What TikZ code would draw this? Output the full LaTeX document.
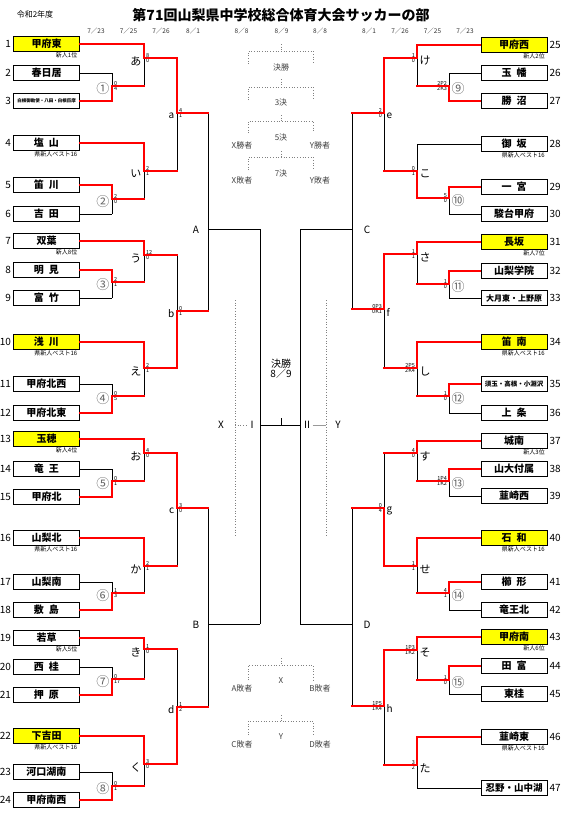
\documentclass[tikz,border=0pt]{standalone}
\usepackage{fontspec}
\setmainfont{Noto Sans CJK JP}
\usetikzlibrary{positioning}
\definecolor{hiyellow}{RGB}{255,255,0}
\definecolor{winred}{RGB}{255,0,0}
\definecolor{dimgray}{RGB}{100,100,100}
\newcommand\tsp{\hspace{0.5em}}
\tikzset{
  team/.style = {draw=black, line width=0.9pt, minimum width=66pt,
    minimum height=15pt, inner sep=0pt, font=\bfseries\fontsize{10}{10}\selectfont},
  team_y/.style = {team, fill=hiyellow},% seeded teams
  tnum/.style = {inner sep=1pt, font=\fontsize{10}{10}\selectfont},
  sub/.style = {inner sep=0.5pt, font=\fontsize{6}{6}\selectfont},
  lose/.style = {draw=black, line width=0.8pt},
  win/.style = {draw=winred, line width=1.8pt, line cap=rect},
  scr/.style = {inner sep=0.4pt, font=\fontsize{5.5}{5.5}\selectfont},
  rnd_c/.style = {inner sep=0.5pt, dimgray, font=\fontsize{13}{13}\selectfont},
  rnd_k/.style = {inner sep=0.5pt, font=\fontsize{11}{11}\selectfont},
  rnd_q/.style = {inner sep=0.5pt, font=\fontsize{10}{10}\selectfont},
  blk/.style = {inner sep=0.5pt, font=\fontsize{10}{10}\selectfont},
  note/.style = {inner sep=0.5pt, black!75, font=\fontsize{8}{8}\selectfont},
  dots/.style = {draw=black!50, dotted, line width=0.7pt},
  date/.style = {inner sep=0.5pt, black!80, font=\fontsize{6.5}{6.5}\selectfont}
}

\begin{document}
\begin{tikzpicture}[x=1pt, y=-1pt]
\useasboundingbox (0,0) rectangle (565,823);

% header
\node[inner sep=0pt, font=\fontsize{8}{8}\selectfont] (year) at (35,14.5) {令和2年度};
\node[inner sep=0pt, font=\bfseries\fontsize{14}{14}\selectfont] (title) at (281,15) {第71回山梨県中学校総合体育大会サッカーの部};
\foreach \x/\d [count=\i] in {96/7／23, 128.5/7／25, 161/7／26, 193/8／1, 241.5/8／8,
    281.5/8／9, 320/8／8, 369/8／1, 400/7／26, 432.5/7／25, 465/7／23}
  \node[date] (d\i) at (\x,31) {\d};

% left block teams
\foreach \n/\y/\nm/\st in {1/44/甲府東/team_y, 2/73/春日居/team,
    3/101/{\fontsize{4.5}{5}\selectfont 白根御勅使・八田・白根巨摩}/team,
    4/143/塩\tsp 山/team, 5/185/笛\tsp 川/team, 6/214/吉\tsp 田/team,
    7/241/双葉/team, 8/270/明\tsp 見/team, 9/298/富\tsp 竹/team,
    10/342/浅\tsp 川/team_y, 11/384/甲府北西/team, 12/413/甲府北東/team,
    13/439/玉穂/team_y, 14/469/竜\tsp 王/team, 15/497/甲府北/team,
    16/538/山梨北/team, 17/582/山梨南/team, 18/610/敷\tsp 島/team,
    19/638/若草/team, 20/667/西\tsp 桂/team, 21/695/押\tsp 原/team,
    22/736/下吉田/team_y, 23/772/河口湖南/team, 24/800/甲府南西/team}{
  \node[\st] (t\n) at (46.5,\y) {\nm};
  \node[tnum, left=1pt of t\n] (n\n) {\n};
}
% right block teams
\foreach \n/\y/\nm/\st in {25/45/甲府西/team_y, 26/73/玉\tsp 幡/team, 27/101/勝\tsp 沼/team,
    28/144/御\tsp 坂/team, 29/187/一\tsp 宮/team, 30/214/駿台甲府/team,
    31/242/長坂/team_y, 32/271/山梨学院/team,
    33/298/{\fontsize{8}{8}\selectfont 大月東・上野原}/team,
    34/342/笛\tsp 南/team_y,
    35/384/{\fontsize{6.5}{7}\selectfont 須玉・高根・小淵沢}/team, 36/413/上\tsp 条/team,
    37/441/城南/team, 38/469/山大付属/team, 39/496/韮崎西/team,
    40/538/石\tsp 和/team_y, 41/582/櫛\tsp 形/team, 42/610/竜王北/team,
    43/637/甲府南/team_y, 44/666/田\tsp 富/team, 45/694/東桂/team,
    46/737/韮崎東/team, 47/788/{\fontsize{9.5}{10}\selectfont 忍野・山中湖}/team}{
  \node[\st] (t\n) at (514,\y) {\nm};
  \node[tnum, right=1pt of t\n] (n\n) {\n};
}
% notes under the boxes
\foreach \n/\s in {1/新人1位, 4/県新人ベスト16, 7/新人8位, 10/県新人ベスト16,
    13/新人4位, 16/県新人ベスト16, 19/新人5位, 22/県新人ベスト16,
    25/新人2位, 28/県新人ベスト16, 31/新人7位, 34/県新人ベスト16,
    37/新人3位, 40/県新人ベスト16, 43/新人6位, 46/県新人ベスト16}
  \node[sub, anchor=north east] (s\n) at ([xshift=-2pt]t\n.south east) {\s};

% left matches: name/x/top/bottom/out/winner/scores/label
\foreach \m/\x/\yt/\yb/\yo/\w/\sa/\sb/\lb/\ls in {
    c1/112/73/101/86/b/0/4/①/rnd_c, k1/144/44/86/58/t/8/0/あ/rnd_k,
    c2/112/185/214/199/t/2/0/②/rnd_c, k2/144/143/199/171/t/2/1/い/rnd_k,
    qa/177/58/171/113/t/4/1/a/rnd_q,
    c3/112/270/298/282/t/2/1/③/rnd_c, k3/144/241/282/255/t/12/0/う/rnd_k,
    c4/112/384/413/396/b/0/5/④/rnd_c, k4/144/342/396/368/t/2/1/え/rnd_k,
    qb/177/255/368/311/b/0/1/b/rnd_q,
    c5/112/469/497/481/b/0/1/⑤/rnd_c, k5/144/439/481/453/t/4/0/お/rnd_k,
    c6/112/582/610/593/b/1/3/⑥/rnd_c, k6/144/538/593/566/t/2/1/か/rnd_k,
    qc/177/453/566/508/t/3/0/c/rnd_q,
    c7/112/667/695/679/b/0/17/⑦/rnd_c, k7/144/638/679/649/t/1/0/き/rnd_k,
    c8/112/772/800/786/b/0/1/⑧/rnd_c, k8/144/736/786/764/t/3/0/く/rnd_k,
    qd/177/649/764/707/b/1/2/d/rnd_q}{
  \coordinate (\m-t) at (\x,\yt);
  \coordinate (\m-b) at (\x,\yb);
  \coordinate (\m) at (\x,\yo);
  \draw[lose] (\m-t) -- (\m-b);
  \draw[win] (\m-\w) -- (\m);
  \node[scr, anchor=south west] (\m-sa) at ([xshift=1.5pt]\m) {\sa};
  \node[scr, anchor=north west] (\m-sb) at ([xshift=1.5pt]\m) {\sb};
  \node[\ls, anchor=east] (\m-l) at ([xshift=-2pt, yshift=-3pt]\m) {\lb};
}
% right matches
\foreach \m/\x/\yt/\yb/\yo/\w/\sa/\sb/\lb/\ls in {
    c9/449/73/101/86/b/2P2/2K3/⑨/rnd_c, k9/417/45/86/58/t/1/0/け/rnd_k,
    c10/449/187/214/198/t/5/0/⑩/rnd_c, k10/417/144/198/171/b/0/1/こ/rnd_k,
    qe/384/58/171/113/t/2/0/e/rnd_q,
    c11/449/271/298/284/t/1/0/⑪/rnd_c, k11/417/242/284/254/t/1/1/さ/rnd_k,
    c12/449/384/413/396/t/1/0/⑫/rnd_c, k12/417/342/396/368/t/2P5/2K4/し/rnd_k,
    qf/384/254/368/309/t/0P3/0K1/f/rnd_q,
    c13/449/469/496/481/t/1P4/1K2/⑬/rnd_c, k13/417/441/481/453/t/4/0/す/rnd_k,
    c14/449/582/610/593/t/4/1/⑭/rnd_c, k14/417/538/593/566/t/1/1/せ/rnd_k,
    qg/384/453/566/508/b/0/4/g/rnd_q,
    c15/449/666/694/680/t/1/0/⑮/rnd_c, k15/417/637/680/650/t/1P3/1K2/そ/rnd_k,
    k16/417/737/788/765/t/3/2/た/rnd_k,
    qh/384/650/765/706/t/1P5/1K4/h/rnd_q}{
  \coordinate (\m-t) at (\x,\yt);
  \coordinate (\m-b) at (\x,\yb);
  \coordinate (\m) at (\x,\yo);
  \draw[lose] (\m-t) -- (\m-b);
  \draw[win] (\m-\w) -- (\m);
  \node[scr, anchor=south east] (\m-sa) at ([xshift=-1.5pt]\m) {\sa};
  \node[scr, anchor=north east] (\m-sb) at ([xshift=-1.5pt]\m) {\sb};
  \node[\ls, anchor=west] (\m-l) at ([xshift=2pt, yshift=-3pt]\m) {\lb};
}

% block finals and the final
\foreach \m/\x/\yt/\yb/\yo in {A/208/113/311/229, B/208/508/707/624,
    C/352/113/309/229, D/352/508/706/624, X/260/229/624/425, Y/300/229/624/425}{
  \coordinate (\m-t) at (\x,\yt);
  \coordinate (\m-b) at (\x,\yb);
  \coordinate (\m) at (\x,\yo);
  \draw[lose] (\m-t) -- (\m-b);
}

% box to first match
\foreach \n/\m/\s in {1/k1-t/win, 2/c1-t/lose, 3/c1-b/win, 4/k2-t/win, 5/c2-t/win,
    6/c2-b/lose, 7/k3-t/win, 8/c3-t/win, 9/c3-b/lose, 10/k4-t/win, 11/c4-t/lose,
    12/c4-b/win, 13/k5-t/win, 14/c5-t/lose, 15/c5-b/win, 16/k6-t/win, 17/c6-t/lose,
    18/c6-b/win, 19/k7-t/win, 20/c7-t/lose, 21/c7-b/win, 22/k8-t/win, 23/c8-t/lose,
    24/c8-b/win}
  \draw[\s] (t\n.east) -- (\m);
\foreach \n/\m/\s in {25/k9-t/win, 26/c9-t/lose, 27/c9-b/win, 28/k10-t/lose,
    29/c10-t/win, 30/c10-b/lose, 31/k11-t/win, 32/c11-t/win, 33/c11-b/lose,
    34/k12-t/win, 35/c12-t/win, 36/c12-b/lose, 37/k13-t/win, 38/c13-t/win,
    39/c13-b/lose, 40/k14-t/win, 41/c14-t/win, 42/c14-b/lose, 43/k15-t/win,
    44/c15-t/win, 45/c15-b/lose, 46/k16-t/win, 47/k16-b/lose}
  \draw[\s] (t\n.west) -- (\m);

% winners move on
\foreach \a/\b in {c1/k1-b, k1/qa-t, c2/k2-b, k2/qa-b, qa/A-t, c3/k3-b, k3/qb-t,
    c4/k4-b, k4/qb-b, qb/A-b, c5/k5-b, k5/qc-t, c6/k6-b, k6/qc-b, qc/B-t,
    c7/k7-b, k7/qd-t, c8/k8-b, k8/qd-b, qd/B-b,
    c9/k9-b, k9/qe-t, c10/k10-b, k10/qe-b, qe/C-t, c11/k11-b, k11/qf-t,
    c12/k12-b, k12/qf-b, qf/C-b, c13/k13-b, k13/qg-t, c14/k14-b, k14/qg-b,
    qg/D-t, c15/k15-b, k15/qh-t, k16/qh-b, qh/D-b}
  \draw[win] (\a) -- (\b);
\foreach \a/\b in {A/X-t, B/X-b, C/Y-t, D/Y-b, X/Y}
  \draw[lose] (\a) -- (\b);
\coordinate (fin) at (281,418);
\coordinate (finb) at (281,425);
\draw[lose] (finb) -- (fin);

\node[blk] (labA) at (196,230) {A};
\node[blk] (labB) at (196,625) {B};
\node[blk] (labC) at (367,230) {C};
\node[blk] (labD) at (367,625) {D};
\node[blk, align=center] (final) at (281,369) {決勝\\8／9};

% X and Y lines
\node[blk] (lx) at (221,425) {X};
\node[blk] (l1) at (252,425) {Ⅰ};
\node[blk] (l2) at (307,425) {Ⅱ};
\node[blk] (ly) at (338,425) {Y};
\coordinate (xd-t) at (235,300);
\coordinate (xd-b) at (235,535);
\coordinate (yd-t) at (326,300);
\coordinate (yd-b) at (326,535);
\draw[dots] (xd-t) -- (xd-b);
\draw[dots] (yd-t) -- (yd-b);
\draw[dots] (235,425) -- (l1);
\draw[draw=black!40, line width=0.8pt] (l2) -- (326,425);

% placing matches
\foreach \yt/\yh/\yb in {44/51/64, 79/87/100, 115/121/133, 151/157/170,
    658/665/680, 715/721/735}{
  \draw[dots] (281,\yt) -- (281,\yh);
  \draw[dots] (248,\yb) -- (248,\yh) -- (313,\yh) -- (313,\yb);
}
\foreach \x/\y/\s [count=\i] in {281/67/決勝, 281/102/3決, 281/137/5決, 242/145/X勝者,
    320/145/Y勝者, 281/173/7決, 242/180/X敗者, 320/180/Y敗者, 281/681/X,
    242/688/A敗者, 320/688/B敗者, 281/737/Y, 242/744/C敗者, 320/744/D敗者}
  \node[note] (p\i) at (\x,\y) {\s};
\end{tikzpicture}
\end{document}
